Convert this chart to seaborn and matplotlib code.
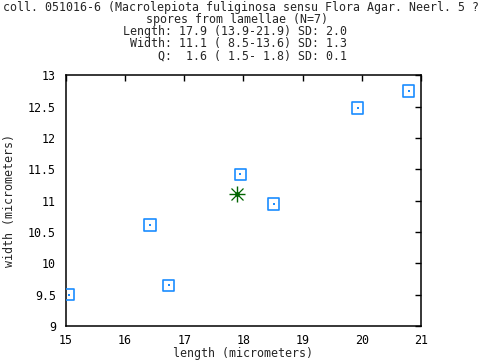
import numpy as np
import pandas as pd
import seaborn as sns
import matplotlib
matplotlib.use("Agg")
import matplotlib.pyplot as plt

# spore measurements (micrometers)
lengths = [15.05, 16.42, 16.74, 17.95, 18.51, 19.93, 20.79]
widths = [9.50, 10.61, 9.65, 11.42, 10.95, 12.48, 12.75]
mean_length = [17.9]
mean_width = [11.1]

title_lines = [
    "coll. 051016-6 (Macrolepiota fuliginosa sensu Flora Agar. Neerl. 5 ?",
    "spores from lamellae (N=7)",
    "Length: 17.9 (13.9-21.9) SD: 2.0",
    " Width: 11.1 ( 8.5-13.6) SD: 1.3",
    "     Q:  1.6 ( 1.5- 1.8) SD: 0.1",
]
xticks = [15, 16, 17, 18, 19, 20, 21]
yticks = [9, 9.5, 10, 10.5, 11, 11.5, 12, 12.5, 13]
ytick_labels = ["9", "9.5", "10", "10.5", "11", "11.5", "12", "12.5", "13"]

sns.set_style("white")
plt.rcParams['font.family'] = ['DejaVu Sans Mono']
fs = 8.4
blue = '#1a8cff'
green = '#006400'

df = pd.DataFrame({'length': lengths, 'width': widths})

fig = plt.figure(figsize=(4.8, 3.6), dpi=100)
ax = fig.add_axes([0.137, 0.0944, 0.740, 0.696])

sns.scatterplot(data=df, x='length', y='width', ax=ax, marker='s', s=68,
                facecolor='none', edgecolor=blue, linewidth=1.2, zorder=3)
ax.scatter(df['length'], df['width'], marker='s', s=1.2, color=blue,
           linewidths=0, zorder=4)
ax.plot(mean_length, mean_width, marker='+', ms=12, mew=1.0, color=green, ls='none', zorder=5)
ax.plot(mean_length, mean_width, marker='x', ms=8.5, mew=0.9, color=green, ls='none', zorder=5)
ax.plot(mean_length, mean_width, marker='o', ms=2.5, color=green, ls='none', zorder=6)

ax.set_xlim(15, 21)
ax.set_ylim(9, 13)
ax.set_xticks(xticks)
ax.set_xticklabels([str(t) for t in xticks])
ax.set_yticks(yticks)
ax.set_yticklabels(ytick_labels)
ax.tick_params(direction='in', length=4.5, width=1, top=True, right=True,
               labelsize=fs, colors='black')
ax.tick_params(axis='y', pad=7)
ax.tick_params(axis='x', pad=6)
for sp in ax.spines.values():
    sp.set_visible(True)
    sp.set_color('black')
    sp.set_linewidth(1.1)

ax.set_xlabel('length (micrometers)', fontsize=fs, labelpad=0)
ax.set_ylabel('width (micrometers)', fontsize=fs, labelpad=9)

fig.text(3 / 480, 1 - 8 / 360, title_lines[0], ha='left', va='center', fontsize=fs)
fig.text(237 / 480, 1 - 20 / 360, title_lines[1], ha='center', va='center', fontsize=fs)
for i, line in enumerate(title_lines[2:]):
    fig.text(123 / 480, 1 - (32 + 12 * i) / 360, line, ha='left', va='center', fontsize=fs)

fig.savefig('out.png', dpi=100)
